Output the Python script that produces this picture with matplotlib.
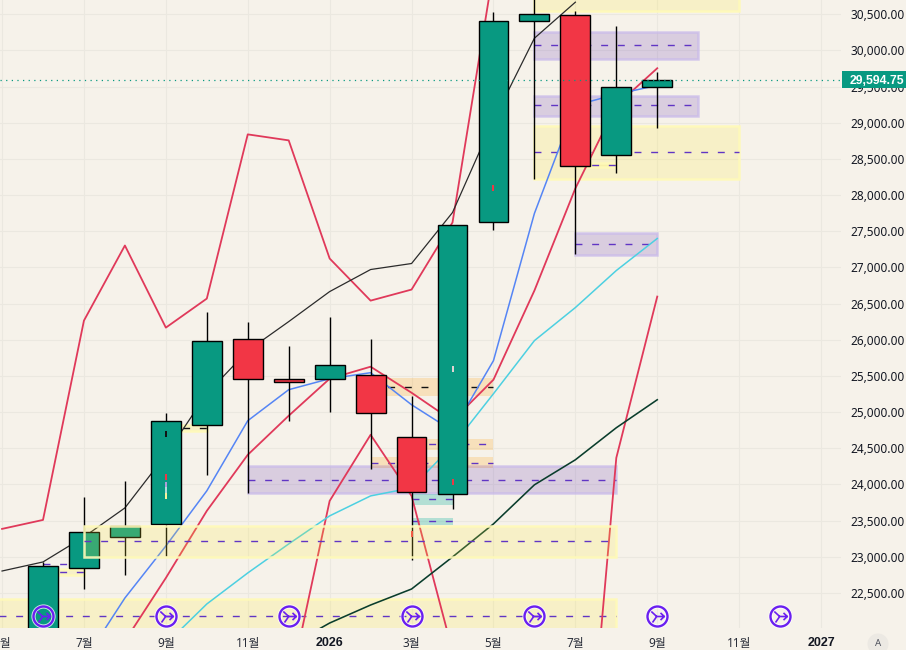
# -*- coding: utf-8 -*-
import matplotlib
matplotlib.use("Agg")
import matplotlib.pyplot as plt
import numpy as np
from matplotlib.patches import Rectangle, Ellipse
from matplotlib.path import Path

plt.rcParams['font.family'] = ['Noto Sans', 'Noto Sans CJK KR', 'DejaVu Sans']

BG = '#f6f2ea'
GREEN = '#089981'
RED = '#f23645'
PURPLE = '#6035c4'
BOLD_FONT = ['Liberation Sans', 'Noto Sans CJK KR']

# candles, one per two-month label step / 2 (monthly bars, 0 = 2025-06)
opens = [21700, 22846, 23275, 23455, 24825, 26015, 25462, 25462, 25517, 24659, 23870, 27621, 30403, 30493, 28548, 29497]
highs = [22929, 23829, 24050, 24991, 26389, 26251, 25919, 26320, 26015, 25227, 27580, 30528, 31000, 30542, 30334, 29697]
lows = [21600, 22555, 22749, 23012, 24133, 23884, 24881, 25005, 24216, 22957, 23663, 27524, 28216, 27192, 28299, 28922]
closes = [22874, 23344, 23427, 24881, 25981, 25462, 25420, 25656, 24991, 23898, 27580, 30403, 30507, 28396, 29490, 29594.75]
last_price = 29594.75

# moving averages / cloud lines, first month index then values
upper_red_start = -1
upper_red = [23386, 23510, 26265, 27303, 26168, 26569, 28839, 28756, 27123, 26541, 26694, 27621, 31109]
black_start = -1
black_ma = [22804, 22929, 23275, 23676, 24410, 25254, 25849, 26251, 26666, 26971, 27054, 27759, 29033, 30168, 30666]
blue_start = 1
blue_ma = [21559, 22431, 23150, 23912, 24881, 25310, 25462, 25545, 25102, 24742, 25711, 27746, 29240, 29393, 29517]
red_start = 2
red_ma = [21836, 22708, 23635, 24410, 24950, 25462, 25628, 25268, 24881, 25448, 26680, 28092, 29240, 29753]
cyan_start = 3
cyan_ma = [21795, 22348, 22777, 23178, 23566, 23842, 23953, 24535, 25254, 25988, 26445, 26957, 27400]
dark_start = 6
dark_ma = [21766, 22085, 22334, 22555, 22998, 23455, 23995, 24341, 24784, 25171]
lag_start = 6
lag_red = [21143, 23773, 24687, 23842, 21697, 19898, 18929, 17960, 24368, 26597]

# zones: left month, right month, top price, bottom price, dashed mid price, kind
zone_left = [-2, 1, 0, 3, 5, 8, 9, 8, 9, 9, 12, 12, 12, 12, 13, 13]
zone_right = [14, 14, 1, 4, 14, 11, 11, 11, 10, 10, 16, 16, 17, 17, 14, 15]
zone_top = [22417, 23427, 22832, 24825, 24258, 25476, 24631, 24382, 23870, 23538, 30251, 29365, 30720, 28950, 28438, 27469]
zone_bot = [21946, 22998, 22749, 24742, 23884, 25227, 24479, 24230, 23718, 23441, 29877, 29088, 30542, 28216, 28382, 27178]
zone_mid = [22182, 23220, 22791, 24784, 24064, 25351, 24562, 24299, 23801, 23496, 30071, 29240, None, 28590, 28410, 27330]
zone_kind = ['y', 'y', 'y', 'y', 'p', 'o', 'o', 'o', 't', 't', 'p', 'p', 'y', 'y', 'y', 'p']
dash_black = [False, False, False, True, False, True, False, False, False, False, False, False, False, False, False, False]
zone_on_top = [False, True] + [False] * 14

# little marks sitting on the bodies
tick_x = [3, 3, 3, 3, 3, 10, 10, 11, 9]
tick_y = [24701, 24105, 23995, 23926, 23842, 25600, 24036, 28092, 23317]
tick_c = ['#111111', '#f23645', '#b39ddb', '#b2dfdb', '#fff59d', '#e8d5d5', '#f23645', '#f23645', '#f23645']

xtick_pos = [-1, 1, 3, 5, 7, 9, 11, 13, 15, 17, 19]
xtick_lab = ['5월', '7월', '9월', '11월', '2026', '3월', '5월', '7월', '9월', '11월', '2027']
ytick_pos = list(range(22500, 31000, 500))
icon_x = [0, 3, 6, 9, 12, 15, 18]

zone_fill = {'y': (1, 0.92, 0.23, 0.2), 'p': (0.404, 0.227, 0.718, 0.2),
             'o': (1, 0.6, 0, 0.2), 't': (0.0, 0.68, 0.6, 0.27)}
zone_edge = {'y': (1, 0.98, 0.72, 0.9), 'p': (0.78, 0.72, 0.92, 0.7),
             'o': (1, 0.6, 0, 0.0), 't': (0, 0.68, 0.6, 0.0)}

fig = plt.figure(figsize=(9.06, 6.5), dpi=100, facecolor=BG)
ax = fig.add_axes([0, 22 / 650, 841 / 906, 628 / 650], facecolor=BG)
ax.set_xlim(-1.05, 19.487)
ax.set_ylim(22016.2, 30696.3)
for s in ax.spines.values():
    s.set_visible(False)

ax.grid(True, color='#ebe8e0', lw=0.75, zorder=0)
ax.set_axisbelow(True)
ax.yaxis.tick_right()
ax.set_yticks(ytick_pos)
ax.set_yticklabels([f"{v:,.2f}" for v in ytick_pos], fontsize=8.5, color='#131722')
ax.set_xticks(xtick_pos)
ax.set_xticklabels(xtick_lab, fontsize=8.5, color='#2a2e39')
ax.tick_params(axis='y', length=0, pad=6.5)
ax.tick_params(axis='x', length=0, pad=6.5)
for lab in ax.get_xticklabels():
    if lab.get_text().startswith('20'):
        lab.set_family(BOLD_FONT)
        lab.set_fontweight('bold')
        lab.set_fontsize(9)
        lab.set_color('#131722')

# zones
for i in range(len(zone_left)):
    z = 5.5 if zone_on_top[i] else 1
    ax.add_patch(Rectangle((zone_left[i], zone_bot[i]), zone_right[i] - zone_left[i],
                           zone_top[i] - zone_bot[i], fc=zone_fill[zone_kind[i]],
                           ec=zone_edge[zone_kind[i]], lw=1.8, zorder=z))
    if zone_mid[i] is not None:
        ax.plot([zone_left[i], zone_right[i]], [zone_mid[i], zone_mid[i]],
                color='#111111' if dash_black[i] else PURPLE, lw=1.0,
                dashes=(5, 7), zorder=z + 0.2)
ax.plot([0, 1], [22901, 22901], color=PURPLE, lw=1.0, dashes=(5, 7), zorder=1.2)

# lines
ax.plot(np.arange(len(lag_red)) + lag_start, lag_red, color='#e0395a', lw=1.3, zorder=2)
ax.plot(np.arange(len(upper_red)) + upper_red_start, upper_red, color='#e0395a', lw=1.3, zorder=2)
ax.plot(np.arange(len(red_ma)) + red_start, red_ma, color='#e0395a', lw=1.3, zorder=2)
ax.plot(np.arange(len(blue_ma)) + blue_start, blue_ma, color='#5585f5', lw=1.1, zorder=2)
ax.plot(np.arange(len(cyan_ma)) + cyan_start, cyan_ma, color='#4dd0e1', lw=1.1, zorder=2)
ax.plot(np.arange(len(dark_ma)) + dark_start, dark_ma, color='#0a3d2c', lw=1.15, zorder=2)
ax.plot(np.arange(len(black_ma)) + black_start, black_ma, color='#2b2b2b', lw=0.9, zorder=2)

# candles
xs = np.arange(len(closes))
o = np.array(opens)
c = np.array(closes)
colors = [GREEN if a >= b else RED for a, b in zip(closes, opens)]
ax.vlines(xs, lows, highs, color='black', lw=1.0, zorder=3)
ax.bar(xs, c - o, bottom=o, width=0.73, color=colors, edgecolor='black', linewidth=1.0, zorder=4)
for tx, ty, tc in zip(tick_x, tick_y, tick_c):
    ax.plot([tx], [ty], marker='|', ms=4.5, mew=1.4, color=tc, zorder=4.5)

# last price
ax.axhline(last_price, color=GREEN, lw=0.9, dashes=(1, 3.5), zorder=6)
trans = ax.get_yaxis_transform()
ax.add_patch(Rectangle((1.0012, last_price - 116), 0.09, 232, transform=trans, fc=GREEN, ec='none',
                       clip_on=False, zorder=8))
ax.text(1.0105, last_price, f"{last_price:,.2f}", transform=trans, color='white', fontsize=8.8,
        family=BOLD_FONT, fontweight='bold', va='center_baseline', ha='left', clip_on=False, zorder=9)

# session break icons
merge = Path([(-0.62, 0.5), (-0.08, 0.0), (-0.5, -0.6), (-0.08, 0.0), (0.68, 0.0),
              (0.3, 0.36), (0.68, 0.0), (0.3, -0.36), (0.0, 1.0)],
             [Path.MOVETO, Path.LINETO, Path.MOVETO, Path.LINETO, Path.LINETO,
              Path.MOVETO, Path.LINETO, Path.LINETO, Path.MOVETO])
icon_y = [(628 - 616) / 628] * len(icon_x)
xt = ax.get_xaxis_transform()
ax.plot(icon_x, icon_y, ls='none', marker='o', ms=14.4, mfc='none', mec='white', mew=3.0, alpha=0.8,
        transform=xt, zorder=7)
ax.plot(icon_x, icon_y, ls='none', marker='o', ms=14.4, mfc='none', mec='#6a1ff0', mew=1.7,
        transform=xt, zorder=7.1)
ax.plot(icon_x, icon_y, ls='none', marker=merge, ms=14.4, mfc='none', mec='#6a1ff0', mew=1.2,
        transform=xt, zorder=7.2)

# auto-scale button
fig.add_artist(Ellipse((878 / 906, 1 - 644 / 650), 21 / 906, 21 / 650, transform=fig.transFigure,
                       fc='#ece9e3', ec='none'))
fig.text(878 / 906, 1 - 644 / 650, 'A', fontsize=7, color='#50535e', ha='center', va='center')

fig.savefig('out.png', dpi=100, facecolor=BG)
